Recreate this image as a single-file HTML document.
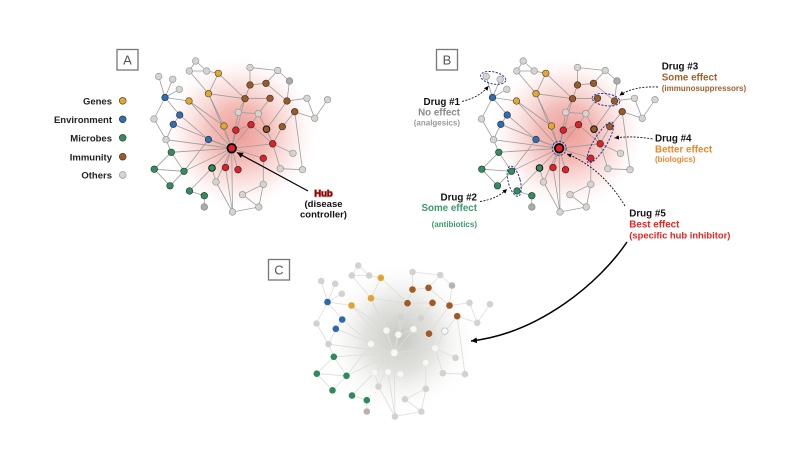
<!DOCTYPE html>
<html><head><meta charset="utf-8"><style>
html,body{margin:0;padding:0;background:#fff;}
svg{display:block;}
text{font-family:"Liberation Sans",Arial,sans-serif;font-weight:bold;}
</style></head><body>
<svg width="800" height="468" viewBox="0 0 800 468" xmlns="http://www.w3.org/2000/svg">
<defs>
<radialGradient id="gr" cx="240" cy="133" r="80" gradientUnits="userSpaceOnUse">
<stop offset="0" stop-color="#e04a3e" stop-opacity="0.55"/>
<stop offset="0.35" stop-color="#e45e52" stop-opacity="0.42"/>
<stop offset="0.7" stop-color="#ee9088" stop-opacity="0.18"/>
<stop offset="1" stop-color="#ffffff" stop-opacity="0"/>
</radialGradient>
<radialGradient id="gg" cx="400" cy="338" r="78" gradientUnits="userSpaceOnUse">
<stop offset="0" stop-color="#8e8e84" stop-opacity="0.5"/>
<stop offset="0.45" stop-color="#a0a096" stop-opacity="0.3"/>
<stop offset="1" stop-color="#ffffff" stop-opacity="0"/>
</radialGradient>
<marker id="ah" markerWidth="8" markerHeight="8" refX="6" refY="3" orient="auto" markerUnits="userSpaceOnUse">
<path d="M0,0 L6,3 L0,6 z" fill="#000"/>
</marker>
<marker id="ahs" markerWidth="6" markerHeight="6" refX="4.5" refY="2.25" orient="auto" markerUnits="userSpaceOnUse">
<path d="M0,0 L4.5,2.25 L0,4.5 z" fill="#000"/>
</marker>
<path id="edges" fill="none" d="M195.7 61L189.3 71M195.7 61L206.7 71M189.3 71L206.7 71M206.7 71L218.3 73.3M218.3 73.3L208.5 93.7M189.3 71L208.5 93.7M218.3 73.3L245 98.7M250 67.5L277.7 70.5M250 67.5L250 85M277.7 70.5L266 83.3M277.7 70.5L289.5 81M250 85L266 83.3M250 85L245 98.7M266 83.3L287 101M289.5 81L287 101M208.5 93.7L245 98.7M245 98.7L270 98.3M245 98.7L238.3 112.3M270 98.3L258.3 113.7M287 101L307 98.3M307 98.3L314.7 118.3M327.5 99.7L314.7 118.3M294.7 111.7L314.7 118.3M287 101L266.5 129.2M294.7 111.7L282.3 126.7M238.3 112.3L258.3 113.7M258.3 113.7L266.5 129.2M266.5 129.2L272.7 143.8M282.3 126.7L272.7 143.8M251 124.7L272.7 143.8M158.7 76.5L165 97.5M172.7 79.3L165 97.5M179.3 89.3L165 97.5M165 97.5L189 101M165 97.5L154 119M165 97.5L179.7 115M179.7 115L173.3 124.3M154 119L166 139.7M173.3 124.3L166 139.7M179.7 115L208.5 139.5M189 101L224 126M208.5 93.7L224 126M231.7 148.3L189 101M231.7 148.3L208.5 93.7M231.7 148.3L173.3 124.3M231.7 148.3L208.5 139.5M231.7 148.3L166 139.7M231.7 148.3L171.3 152.3M231.7 148.3L184 171.3M231.7 148.3L212 168M231.7 148.3L225.5 167.5M231.7 148.3L238 169.7M231.7 148.3L263.3 158.3M231.7 148.3L272.7 143.8M231.7 148.3L251 124.7M231.7 148.3L235.8 130.2M231.7 148.3L224 126M231.7 148.3L245 98.7M231.7 148.3L238.3 112.3M231.7 148.3L216 182M231.7 148.3L232.5 212M166 139.7L171.3 152.3M171.3 152.3L154.3 169.2M171.3 152.3L184 171.3M154.3 169.2L184 171.3M154.3 169.2L170 185.8M184 171.3L170 185.8M184 171.3L208.5 139.5M189.5 191L204.3 195.7M189.5 191L212 168M204.3 195.7L204.3 207M212 168L216 182M216 182L232.5 212M263.3 184.3L242.5 194.7M263.3 184.3L258.8 207M242.5 194.7L258.8 207M232.5 212L258.8 207M225.5 167.5L232.5 212M263.3 158.3L263.3 184.3M272.7 143.8L293 153.3M272.7 143.8L280.3 168.7M280.3 168.7L302.5 169.7M302.5 169.7L294.7 111.7M251 124.7L258.3 113.7M235.8 130.2L251 124.7"/>
</defs>
<rect width="800" height="468" fill="#fff"/>

<!-- glows -->
<rect x="150" y="45" width="190" height="180" fill="url(#gr)"/>
<rect x="150" y="45" width="190" height="180" fill="url(#gr)" transform="translate(327.5,0)"/>
<rect x="310" y="255" width="190" height="175" fill="url(#gg)"/>

<!-- edges -->
<use href="#edges" stroke="#9d9d9d" stroke-width="0.8"/>
<use href="#edges" stroke="#9d9d9d" stroke-width="0.8" transform="translate(327.5,0)"/>
<use href="#edges" stroke="#dcdcda" stroke-width="0.8" transform="translate(162.5,204.5)"/>

<!-- nodes A -->
<g id="nodesA">
<g fill="#d4d4d0" stroke="#8c8c8c" stroke-width="0.6">
<circle cx="195.7" cy="61" r="3.3"/><circle cx="189.3" cy="71" r="3.3"/><circle cx="206.7" cy="71" r="3.3"/><circle cx="250" cy="67.5" r="3.3"/><circle cx="277.7" cy="70.5" r="3.3"/><circle cx="158.7" cy="76.5" r="3.3"/><circle cx="172.7" cy="79.3" r="3.3"/><circle cx="179.3" cy="89.3" r="3.3"/><circle cx="307" cy="98.3" r="3.3"/><circle cx="327.5" cy="99.7" r="3.3"/><circle cx="238.3" cy="112.3" r="3.3"/><circle cx="258.3" cy="113.7" r="3.3"/><circle cx="154" cy="119" r="3.3"/><circle cx="314.7" cy="118.3" r="3.3"/><circle cx="166" cy="139.7" r="3.3"/><circle cx="293" cy="153.3" r="3.3"/><circle cx="280.3" cy="168.7" r="3.3"/><circle cx="302.5" cy="169.7" r="3.3"/><circle cx="216" cy="182" r="3.3"/><circle cx="263.3" cy="184.3" r="3.3"/><circle cx="242.5" cy="194.7" r="3.3"/><circle cx="232.5" cy="212" r="3.3"/><circle cx="258.8" cy="207" r="3.3"/>
</g>
<g fill="#ababab" stroke="#7a7a7a" stroke-width="0.6">
<circle cx="289.5" cy="81" r="3.3"/><circle cx="204.3" cy="207" r="3.3"/>
</g>
<g fill="#e3a82b" stroke="#3a3a3a" stroke-width="0.6">
<circle cx="218.3" cy="73.3" r="3.3"/><circle cx="208.5" cy="93.7" r="3.3"/><circle cx="189" cy="101" r="3.3"/><circle cx="224" cy="126" r="3.3"/>
</g>
<g fill="#2f6db5" stroke="#2a2a2a" stroke-width="0.6">
<circle cx="165" cy="97.5" r="3.3"/><circle cx="179.7" cy="115" r="3.3"/><circle cx="173.3" cy="124.3" r="3.3"/><circle cx="208.5" cy="139.5" r="3.3"/>
</g>
<g fill="#2f8f5f" stroke="#2a2a2a" stroke-width="0.6">
<circle cx="171.3" cy="152.3" r="3.3"/><circle cx="154.3" cy="169.2" r="3.3"/><circle cx="184" cy="171.3" r="3.3"/><circle cx="170" cy="185.8" r="3.3"/><circle cx="189.5" cy="191" r="3.3"/><circle cx="204.3" cy="195.7" r="3.3"/>
<circle cx="212" cy="168" r="3.3" stroke="#111" stroke-width="1"/>
</g>
<g fill="#9b5a28" stroke="#2a2a2a" stroke-width="0.6">
<circle cx="250" cy="85" r="3.3"/><circle cx="266" cy="83.3" r="3.3"/><circle cx="245" cy="98.7" r="3.3"/><circle cx="270" cy="98.3" r="3.3"/><circle cx="287" cy="101" r="3.3"/><circle cx="294.7" cy="111.7" r="3.3"/><circle cx="282.3" cy="126.7" r="3.3"/>
<circle cx="266.5" cy="129.2" r="3.3" stroke="#111" stroke-width="1"/>
</g>
<g fill="#e61e28" stroke="#2a2a2a" stroke-width="0.7">
<circle cx="235.8" cy="130.2" r="3.3"/><circle cx="251" cy="124.7" r="3.3"/><circle cx="272.7" cy="143.8" r="3.3"/><circle cx="263.3" cy="158.3" r="3.3"/><circle cx="225.5" cy="167.5" r="3.3"/><circle cx="238" cy="169.7" r="3.3"/>
<circle cx="231.7" cy="148.3" r="4.3" stroke="#000" stroke-width="1.7"/>
</g>
</g>
<use href="#nodesA" transform="translate(327.5,0)"/>

<!-- nodes C -->
<g transform="translate(162.5,204.5)">
<g fill="#d2d2ce">
<circle cx="195.7" cy="61" r="3.3"/><circle cx="189.3" cy="71" r="3.3"/><circle cx="206.7" cy="71" r="3.3"/><circle cx="250" cy="67.5" r="3.3"/><circle cx="277.7" cy="70.5" r="3.3"/><circle cx="158.7" cy="76.5" r="3.3"/><circle cx="172.7" cy="79.3" r="3.3"/><circle cx="179.3" cy="89.3" r="3.3"/><circle cx="307" cy="98.3" r="3.3"/><circle cx="327.5" cy="99.7" r="3.3"/><circle cx="238.3" cy="112.3" r="3.3"/><circle cx="258.3" cy="113.7" r="3.3"/><circle cx="154" cy="119" r="3.3"/><circle cx="314.7" cy="118.3" r="3.3"/><circle cx="166" cy="139.7" r="3.3"/><circle cx="293" cy="153.3" r="3.3"/><circle cx="280.3" cy="168.7" r="3.3"/><circle cx="302.5" cy="169.7" r="3.3"/><circle cx="216" cy="182" r="3.3"/><circle cx="263.3" cy="184.3" r="3.3"/><circle cx="242.5" cy="194.7" r="3.3"/><circle cx="232.5" cy="212" r="3.3"/><circle cx="258.8" cy="207" r="3.3"/>
</g>
<g fill="#b4b4b2"><circle cx="289.5" cy="81" r="3.3"/><circle cx="204.3" cy="207" r="3.3"/></g>
<g fill="#e0a530"><circle cx="218.3" cy="73.3" r="3.3"/><circle cx="208.5" cy="93.7" r="3.3"/><circle cx="189" cy="101" r="3.3"/></g>
<g fill="#2e69ab"><circle cx="165" cy="97.5" r="3.3"/><circle cx="179.7" cy="115" r="3.3"/><circle cx="173.3" cy="124.3" r="3.3"/></g>
<g fill="#2e8a5c"><circle cx="171.3" cy="152.3" r="3.3"/><circle cx="154.3" cy="169.2" r="3.3"/><circle cx="184" cy="171.3" r="3.3"/><circle cx="170" cy="185.8" r="3.3"/><circle cx="189.5" cy="191" r="3.3"/><circle cx="204.3" cy="195.7" r="3.3"/></g>
<g fill="#a05a26"><circle cx="250" cy="85" r="3.3"/><circle cx="266" cy="83.3" r="3.3"/><circle cx="245" cy="98.7" r="3.3"/><circle cx="270" cy="98.3" r="3.3"/><circle cx="287" cy="101" r="3.3"/><circle cx="294.7" cy="111.7" r="3.3"/><circle cx="266.5" cy="129.2" r="3.3"/></g>
<g fill="#f7f7f5" stroke="#e2e2e0" stroke-width="0.5">
<circle cx="224" cy="126" r="3.3"/><circle cx="208.5" cy="139.5" r="3.3"/><circle cx="212" cy="168" r="3.3"/><circle cx="282.3" cy="126.7" r="3.3" stroke="#bdbdbb" stroke-width="0.7"/><circle cx="235.8" cy="130.2" r="3.3"/><circle cx="251" cy="124.7" r="3.3"/><circle cx="272.7" cy="143.8" r="3.3"/><circle cx="263.3" cy="158.3" r="3.3"/><circle cx="225.5" cy="167.5" r="3.3"/><circle cx="238" cy="169.7" r="3.3"/><circle cx="231.7" cy="148.3" r="3.6"/>
</g>
</g>

<!-- panel boxes -->
<g fill="none" stroke="#777" stroke-width="1.3">
<rect x="117" y="49.5" width="21" height="20.5"/>
<rect x="436.5" y="49.5" width="21" height="20.5"/>
<rect x="268.5" y="259.5" width="21" height="20.5"/>
</g>
<g fill="#555" font-size="13" text-anchor="middle" style="font-weight:normal">
<text x="127.5" y="64.5" style="font-weight:normal">A</text>
<text x="447" y="64.5" style="font-weight:normal">B</text>
<text x="279" y="274.5" style="font-weight:normal">C</text>
</g>

<!-- legend -->
<g font-size="9.5" fill="#222" text-anchor="end">
<text x="112" y="104.5">Genes</text>
<text x="112" y="123">Environment</text>
<text x="112" y="141.5">Microbes</text>
<text x="112" y="160.5">Immunity</text>
<text x="112" y="178.5">Others</text>
</g>
<g stroke="#333" stroke-width="0.6">
<circle cx="122.7" cy="100.8" r="3.4" fill="#e3a82b"/>
<circle cx="122.7" cy="119.3" r="3.4" fill="#2f6db5"/>
<circle cx="122.7" cy="137.8" r="3.4" fill="#2f8f5f"/>
<circle cx="122.7" cy="156.7" r="3.4" fill="#9b5a28"/>
<circle cx="122.7" cy="175" r="3.4" fill="#d4d4d0" stroke="#8c8c8c"/>
</g>

<!-- hub label -->
<line x1="308" y1="191" x2="237" y2="152.5" stroke="#000" stroke-width="1.2" marker-end="url(#ah)"/>
<g text-anchor="middle" font-size="9.5">
<text x="323.5" y="196.7" fill="#6a0e0e" style="paint-order:stroke" stroke="#e06060" stroke-width="1.2">Hub</text>
<text x="323.5" y="207" fill="#111">(disease</text>
<text x="323.5" y="217.3" fill="#111">controller)</text>
</g>

<!-- B dashed ellipses -->
<g fill="none" stroke="#27399a" stroke-width="1" stroke-dasharray="2.2 1.4">
<ellipse cx="0" cy="0" rx="12.8" ry="6" transform="translate(493.2,77.9) rotate(12)"/>
<ellipse cx="0" cy="0" rx="6" ry="15.5" transform="translate(514.2,181.2) rotate(-15)"/>
<ellipse cx="0" cy="0" rx="14" ry="6" transform="translate(606,99.7) rotate(8)"/>
<ellipse cx="0" cy="0" rx="6.5" ry="23.5" transform="translate(600.3,142.5) rotate(31)"/>
<circle cx="559.2" cy="148.3" r="7"/>
</g>

<!-- dashed arrows -->
<g fill="none" stroke="#111" stroke-width="0.9" stroke-dasharray="2 1.4">
<path d="M462,101.5 Q480,97 488.5,86" marker-end="url(#ahs)"/>
<path d="M480,201.5 Q497,199 507,189" marker-end="url(#ahs)"/>
<path d="M658,87 Q633,86 619.5,95.5" marker-end="url(#ahs)"/>
<path d="M652.5,139 Q633,135.5 614.5,138" marker-end="url(#ahs)"/>
<path d="M625,206 Q602,168 567,154" marker-end="url(#ahs)"/>
</g>

<!-- big arrow -->
<path d="M627,242 C600,282 540,333 471,341" fill="none" stroke="#000" stroke-width="1.5" marker-end="url(#ah)"/>

<!-- drug labels -->
<g font-size="9.8" text-anchor="end">
<text x="460" y="105" fill="#111">Drug #1</text>
<text x="460" y="115.5" fill="#8a8a8a">No effect</text>
<text x="460" y="125.5" fill="#9a9a9a" font-size="8">(analgesics)</text>
<text x="477" y="200.5" fill="#111">Drug #2</text>
<text x="477" y="211" fill="#3a9a6a">Some effect</text>
<text x="477" y="227" fill="#3a9a6a" font-size="8">(antibiotics)</text>
</g>
<g font-size="9.8">
<text x="661.7" y="69.3" fill="#111">Drug #3</text>
<text x="661.7" y="80.5" fill="#a0602c">Some effect</text>
<text x="661.7" y="90.8" fill="#a0602c" font-size="8">(immunosuppressors)</text>
<text x="655" y="141.7" fill="#111">Drug #4</text>
<text x="655" y="152.5" fill="#e8892c">Better effect</text>
<text x="655" y="162" fill="#e8892c" font-size="8">(biologics)</text>
<text x="629.3" y="216.7" fill="#111">Drug #5</text>
<text x="629.3" y="227.7" fill="#e52420">Best effect</text>
<text x="629.3" y="238.5" fill="#e52420" font-size="9.4">(specific hub inhibitor)</text>
</g>
</svg>
</body></html>
